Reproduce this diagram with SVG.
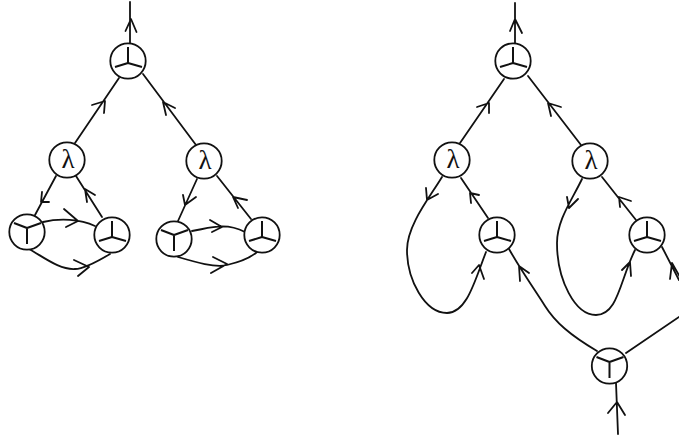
<svg xmlns="http://www.w3.org/2000/svg" width="679" height="438" viewBox="0 0 679 438">
<style>
.e{fill:none;stroke:#111;stroke-width:1.8;stroke-linecap:round;stroke-linejoin:round}
.n{fill:#fff;stroke:#111;stroke-width:1.8}
.g{fill:none;stroke:#111;stroke-width:2}
.l{font-family:"Liberation Serif",serif;font-size:27px;fill:#111;text-anchor:middle}
</style>
<defs>
<g id="up"><circle class="n" r="17.7"/><path class="g" d="M0 2V-14M0 2L-13 6M0 2L14 6"/></g>
<g id="dn"><circle class="n" r="17.7"/><path class="g" d="M0 -4V12M0 -4L-13 -9M0 -4L14 -9"/></g>
<g id="la"><circle class="n" r="17.7"/><text class="l" x="1" y="8">λ</text></g>
</defs>
<g id="connectors">
<path class="e" d="M130 2V43M125.500 31L131 19L136.500 32"/>
<path class="e" d="M75 143L119 78M92 105L105 101L104 113"/>
<path class="e" d="M196 145L143 74M175 108L163 102L166 115"/>
<path class="e" d="M56 176L35 215M49 202L41 202L42 192"/>
<path class="e" d="M102 217L76 176M95 195L85 189L87 202"/>
<path class="e" d="M43 222C60 218 80 219 95 226M64 209L78 221L66 227"/>
<path class="e" d="M29 249C45 258 60 270 75 269C85 269 100 260 110 254M74 260L89 267L78 276"/>
<path class="e" d="M197 179L178 221M196 197L185 205L183 195"/>
<path class="e" d="M251 219L217 176M247 200L233 197L238 208"/>
<path class="e" d="M192 231C210 228 225 222 245 232M210 220L222 227L212 232"/>
<path class="e" d="M178 257C195 262 215 268 227 265C240 262 250 258 257 252M213 257L227 264L211 273"/>
<path class="e" d="M515 3V43M510 31L515 19L522 33"/>
<path class="e" d="M460 143L504 79M477 107L489 103L489 113"/>
<path class="e" d="M581 145L528 76M561 107L548 103L551 116"/>
<path class="e" d="M442 177C430 197 407 225 407 250C407 280 425 313 447 313C467 313 475 280 486 252M438 194L427 200L426 188M472 273L479 265L484 279"/>
<path class="e" d="M488 218L461 178M479 195L470 193L471 203"/>
<path class="e" d="M597 351C570 335 555 322 545 306C535 290 522 272 509 249M529 273L519 266L520 281"/>
<path class="e" d="M582 179C572 200 557 220 557 243C557 280 575 315 596 315C618 315 620 280 635 250M578 199L569 208L567 197M622 270L630 262L631 276"/>
<path class="e" d="M636 220L602 177M631 201L619 197L620 207"/>
<path class="e" d="M662 247L679 280M670 279L672 263L680 277"/>
<path class="e" d="M679 317L626 353"/>
<path class="e" d="M616 383L618 434M608 413L617 402L625 415"/>
</g>
<g id="n1"><use href="#up" x="128" y="61"/></g>
<g id="n2"><use href="#la" x="67" y="160"/></g>
<g id="n3"><use href="#la" x="204" y="161"/></g>
<g id="n4"><use href="#dn" x="27" y="232"/></g>
<g id="n5"><use href="#up" x="112" y="235"/></g>
<g id="n6"><use href="#dn" x="174" y="239"/></g>
<g id="n7"><use href="#up" x="262" y="235"/></g>
<g id="n8"><use href="#up" x="513" y="61"/></g>
<g id="n9"><use href="#la" x="452" y="160"/></g>
<g id="n10"><use href="#la" x="590" y="161"/></g>
<g id="n11"><use href="#up" x="497" y="235"/></g>
<g id="n12"><use href="#up" x="647" y="235"/></g>
<g id="n13"><use href="#dn" x="609.500" y="366"/></g>
</svg>
